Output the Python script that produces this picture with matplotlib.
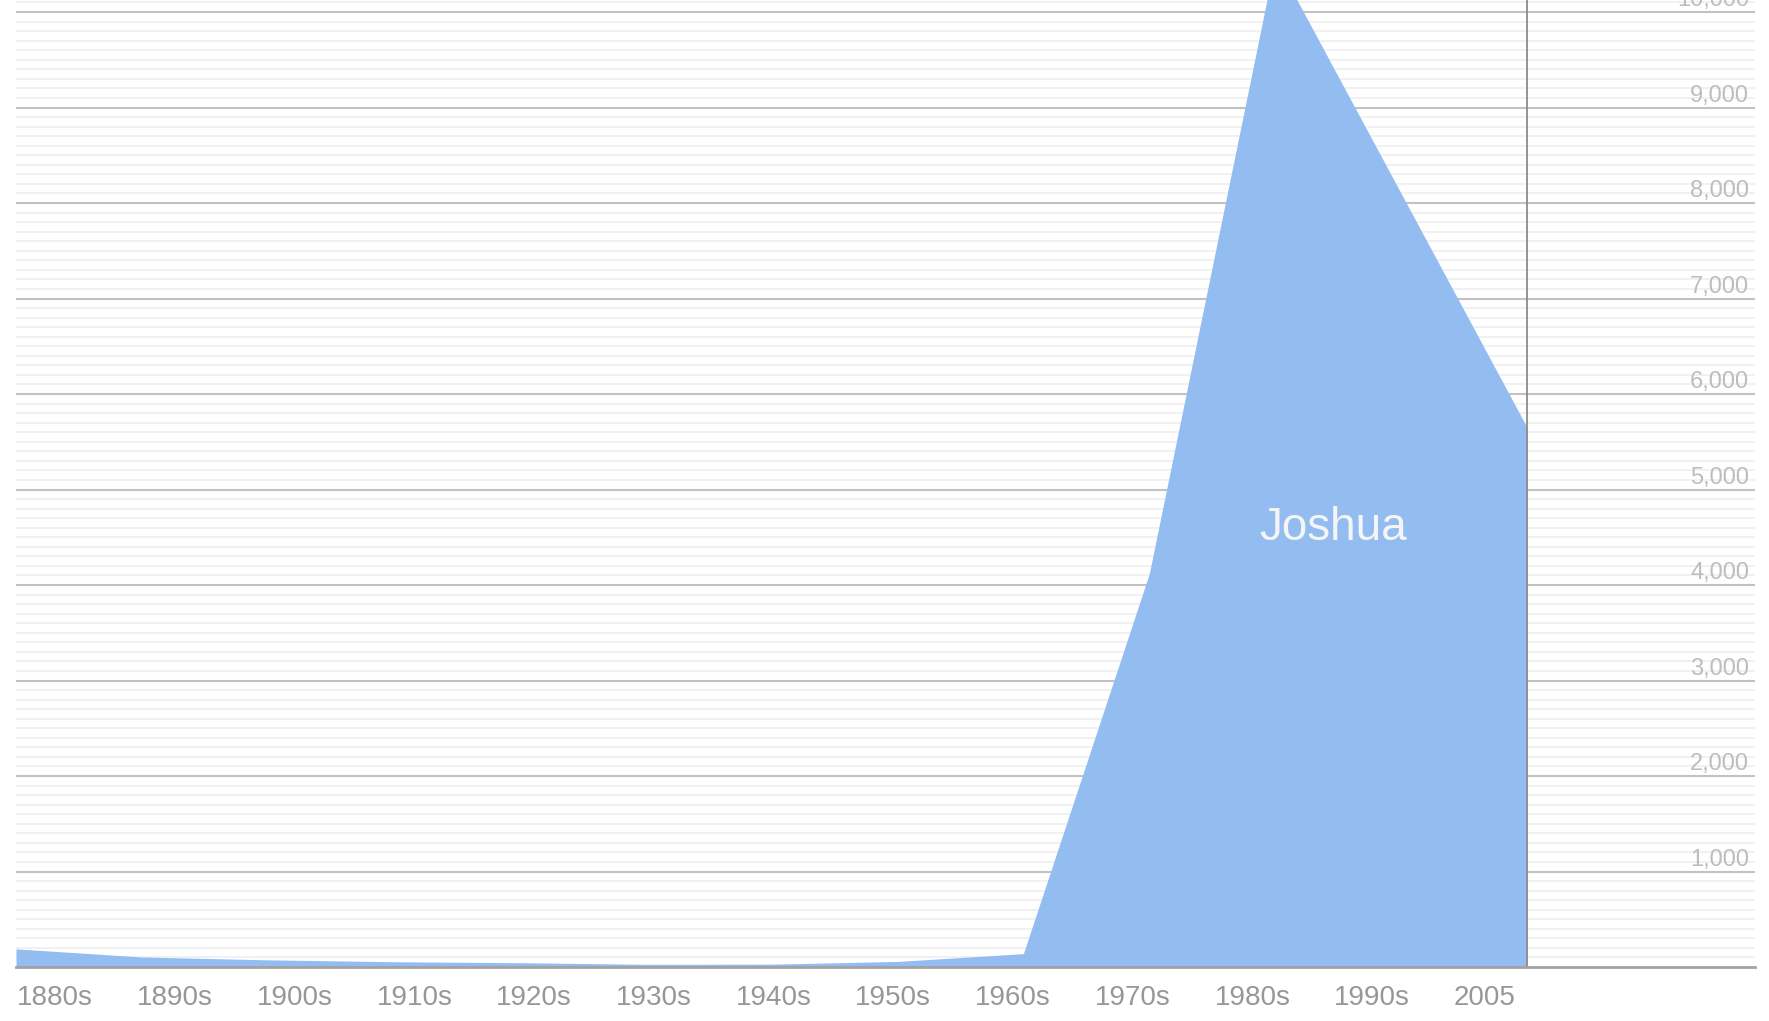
import matplotlib.pyplot as plt
from matplotlib.transforms import blended_transform_factory, offset_copy
import numpy as np

plt.rcParams['font.family'] = ['Liberation Sans', 'DejaVu Sans']

decade_labels = ['1880s', '1890s', '1900s', '1910s', '1920s', '1930s', '1940s',
                 '1950s', '1960s', '1970s', '1980s', '1990s', '2005']
# babies per million named Joshua
joshua = [190, 105, 75, 55, 45, 28, 30, 58, 140, 4120, 10550, 8100, 5650]
name = 'Joshua'

y_major = list(range(1000, 10001, 1000))
y_minor = [v for v in range(100, 10101, 100) if v % 1000 != 0]

fig = plt.figure(figsize=(17.69, 10.21), dpi=100)
ax = fig.add_axes([16 / 1769, 54 / 1021, (1755 - 16) / 1769, 1 - 54 / 1021])

x = np.arange(len(joshua))
ax.fill_between(x, joshua, 0, color='#93bdf1', linewidth=0, zorder=3)

ax.set_xlim(0, 13.81)
ax.set_ylim(0, 10126)

# grid
ax.set_yticks(y_major)
ax.set_yticks(y_minor, minor=True)
ax.grid(axis='y', which='major', color='#c2c2c2', linewidth=1.5, zorder=1)
ax.grid(axis='y', which='minor', color='#f1f1f1', linewidth=1.4, zorder=0)
ax.set_axisbelow(True)
ax.tick_params(axis='y', which='both', left=False, labelleft=False)

for s in ax.spines.values():
    s.set_visible(False)

# end of data marker and baseline
ax.axvline(len(joshua) - 1, color='#8c8c8c', linewidth=1.3, zorder=4)
ax.axhline(0, color='#a2a2a2', linewidth=2.0, zorder=5, clip_on=False)

# y labels, right side, just above each grid line
trans = offset_copy(blended_transform_factory(ax.transAxes, ax.transData),
                    fig=fig, x=0, y=6, units='dots')
for v in y_major:
    ax.text(0.9966, v, f'{v:,}', transform=trans, ha='right', va='baseline',
            fontsize=17, color='#bdbdbd', zorder=6)

# x labels, left aligned
ax.set_xticks([i * 0.9507 + 0.01 for i in range(len(decade_labels))])
ax.set_xticklabels(decade_labels, ha='left', fontsize=20, color='#979797')
ax.tick_params(axis='x', length=0, pad=13)

ax.text(10.46, 4471, name, ha='center', va='baseline', fontsize=33,
        color='#f5f5f5', zorder=7)

plt.savefig('out.png', dpi=100)
